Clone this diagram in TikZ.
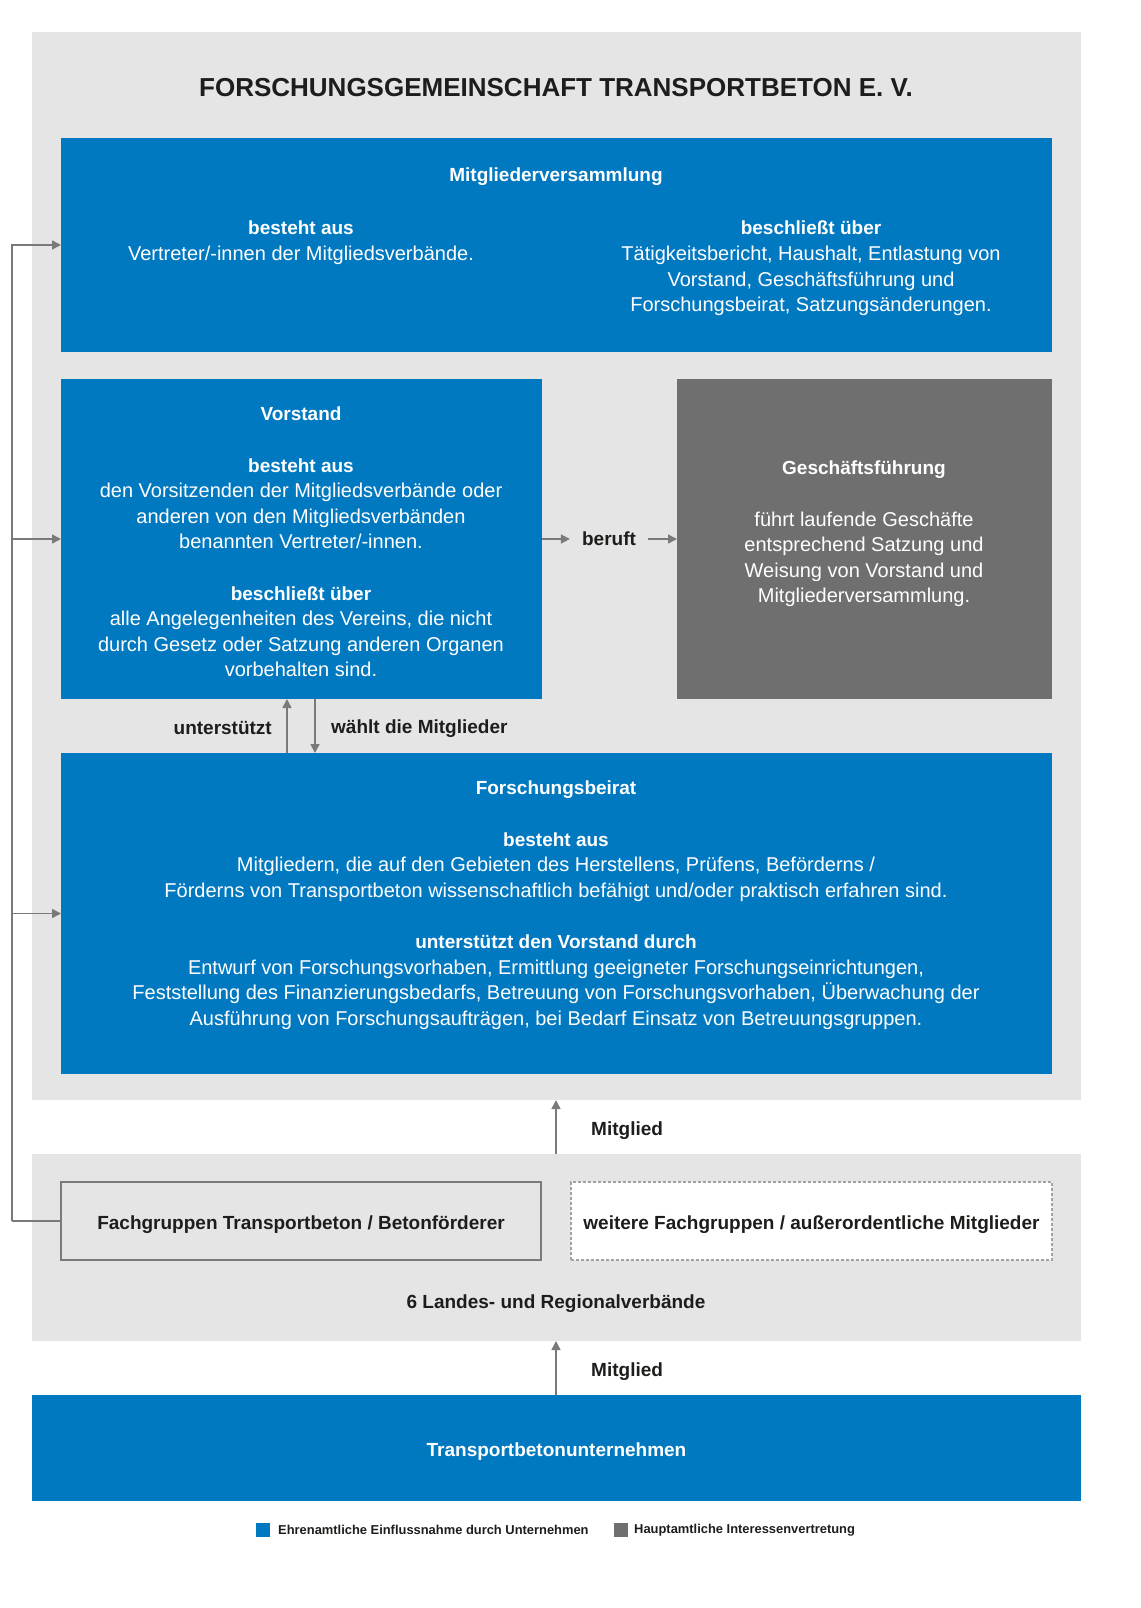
\documentclass[tikz,border=0pt]{standalone}
\usepackage{fontspec}
\setmainfont{Liberation Sans}
\usetikzlibrary{arrows.meta,positioning}
\definecolor{fgtblue}{HTML}{0079C1}
\definecolor{fgtgrey}{HTML}{706F6F}
\definecolor{fgtlight}{HTML}{E5E5E5}
\definecolor{fgtline}{HTML}{7A7A7A}
\definecolor{fgtdark}{HTML}{1D1D1B}
\newcommand\bsub{\fontsize{19}{25.6}\selectfont\bfseries}
\begin{document}
\begin{tikzpicture}[x=1pt,y=-1pt,
  box/.style={rectangle,inner sep=0pt,outer sep=0pt},
  bluebox/.style={box,fill=fgtblue},
  greybox/.style={box,fill=fgtgrey},
  lightbox/.style={box,fill=fgtlight,minimum width=1049pt},
  wtext/.style={anchor=north,align=center,inner sep=0pt,text=white,font=\fontsize{20}{25.6}\selectfont},
  dlabel/.style={inner sep=0pt,text=fgtdark,font=\bsub},
  arr/.style={draw=fgtline,line width=1.5pt,-{Triangle[length=9pt,width=9pt]}},
  legsq/.style={box,minimum size=14pt},
  legtxt/.style={anchor=west,inner sep=0pt,text=fgtdark,font=\fontsize{12.9}{15}\selectfont\bfseries}]
\useasboundingbox (0,0) rectangle (1140,1608);
\node[lightbox,minimum height=1068pt] (org) at (556.5,566) {};
\node[text=fgtdark,inner sep=0pt,font=\fontsize{26}{30}\selectfont\bfseries] (title) at (556,88) {FORSCHUNGSGEMEINSCHAFT TRANSPORTBETON E. V.};
\node[bluebox,minimum width=991pt,minimum height=214pt] (mv) at (556.5,245) {};
\node[wtext] (mvtitle) at (556,168) {\bsub Mitgliederversammlung};
\node[wtext] (mvaus) at (301,221) {\bsub besteht aus\\Vertreter/-innen der Mitgliedsverbände.};
\node[wtext] (mvueber) at (811,221) {\bsub beschließt über\\Tätigkeitsbericht, Haushalt, Entlastung von\\Vorstand, Geschäftsführung und\\Forschungsbeirat, Satzungsänderungen.};
\node[bluebox,minimum width=481pt,minimum height=320pt] (vs) at (301.5,539) {};
\node[wtext] (vstext) at (301,407) {\bsub Vorstand\\[25.6pt]\bsub besteht aus\\den Vorsitzenden der Mitgliedsverbände oder\\anderen von den Mitgliedsverbänden\\benannten Vertreter/-innen.\\[25.6pt]\bsub beschließt über\\alle Angelegenheiten des Vereins, die nicht\\durch Gesetz oder Satzung anderen Organen\\vorbehalten sind.};
\node[greybox,minimum width=375pt,minimum height=320pt] (gf) at (864.5,539) {};
\node[wtext] (gftext) at (864,461) {\bsub Geschäftsführung\\[25.6pt]führt laufende Geschäfte\\entsprechend Satzung und\\Weisung von Vorstand und\\Mitgliederversammlung.};
\node[dlabel,inner xsep=12pt] (beruft) at (609,539) {beruft};
\draw[arr] (vs.east) -- (beruft.west);
\draw[arr] (beruft.east) -- (gf.west);
\node[bluebox,minimum width=991pt,minimum height=321pt] (fb) at (556.5,913.5) {};
\node[wtext] (fbtext) at (556,781) {\bsub Forschungsbeirat\\[25.6pt]\bsub besteht aus\\Mitgliedern, die auf den Gebieten des Herstellens, Prüfens, Beförderns /\\Förderns von Transportbeton wissenschaftlich befähigt und/oder praktisch erfahren sind.\\[25.6pt]\bsub unterstützt den Vorstand durch\\Entwurf von Forschungsvorhaben, Ermittlung geeigneter Forschungseinrichtungen,\\Feststellung des Finanzierungsbedarfs, Betreuung von Forschungsvorhaben, Überwachung der\\Ausführung von Forschungsaufträgen, bei Bedarf Einsatz von Betreuungsgruppen.};
\node[dlabel,anchor=east,inner xsep=15pt] (ut) at (287,728) {unterstützt};
\draw[arr] (fb.north -| ut.east) -- (vs.south -| ut.east);
\node[dlabel,anchor=west,inner xsep=16pt] (wm) at (315,729) {wählt die Mitglieder};
\draw[arr] (vs.south -| wm.west) -- (fb.north -| wm.west);
\node[lightbox,minimum height=187pt] (band) at (556.5,1247.5) {};
\node[box,fill=fgtlight,draw=fgtline,line width=2pt,minimum width=480pt,minimum height=78pt,text height=16pt,text depth=0pt,text=fgtdark,font=\bsub] (fach) at (301,1221) {Fachgruppen Transportbeton / Betonförderer};
\node[box,fill=white,draw=fgtline!70,line width=1.2pt,dash pattern=on 3pt off 2pt,minimum width=481pt,minimum height=78pt,text height=16pt,text depth=0pt,text=fgtdark,font=\bsub] (weitere) at (811.5,1221) {weitere Fachgruppen / außerordentliche Mitglieder};
\node[dlabel] (lv) at (556,1304) {6 Landes- und Regionalverbände};
\node[dlabel,anchor=west,inner xsep=35pt] (m1) at (556,1131) {Mitglied};
\draw[arr] (band.north -| m1.west) -- (org.south -| m1.west);
\node[bluebox,minimum width=1049pt,minimum height=106pt,text height=16pt,text depth=0pt,text=white,font=\bsub] (tbu) at (556.5,1448) {Transportbetonunternehmen};
\node[dlabel,anchor=west,inner xsep=35pt] (m2) at (556,1372) {Mitglied};
\draw[arr] (tbu.north -| m2.west) -- (band.south -| m2.west);
\coordinate (lft) at (12,1221);
\draw[draw=fgtline,line width=1.5pt] (fach.west) -- (lft);
\draw[arr] (lft) |- (mv.west);
\draw[arr] (lft) |- (vs.west);
\draw[arr] (lft) |- (fb.west);
\node[legsq,fill=fgtblue] (lgb) at (263,1530) {};
\node[legtxt,right=8pt of lgb] (lgbt) {Ehrenamtliche Einflussnahme durch Unternehmen};
\node[legsq,fill=fgtgrey] (lgg) at (621,1530) {};
\node[legtxt,right=6pt of lgg] (lggt) {Hauptamtliche Interessenvertretung};
\end{tikzpicture}
\end{document}
